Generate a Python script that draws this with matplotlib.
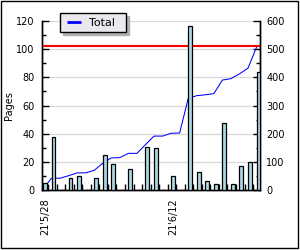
import matplotlib
matplotlib.use("Agg")
import matplotlib.pyplot as plt
from matplotlib.patches import Rectangle
from matplotlib.lines import Line2D
from matplotlib.ticker import MultipleLocator, FixedLocator, NullFormatter

# ---- data ----
days = list(range(26))
pages = [5, 38, 0, 9, 10, 0, 9, 25, 19, 0, 15, 0, 31, 30, 0, 10, 0, 116,
         13, 7, 4.5, 48, 4.3, 17, 20, 84]
total = [5, 43, 43, 52, 62, 62, 71, 96, 115, 116, 131, 131, 162, 192, 192,
         202, 203, 325, 335, 338, 342, 390, 395, 412, 432, 506]
label_positions = [0, 15]
tick_labels = ["21'5/28", "21'6/12"]
reference_level = 102

fig = plt.figure(figsize=(3.0, 2.5), dpi=100)
ax = fig.add_axes([42/300, 59.6/250, 217.5/300, 169.7/250])
ax2 = ax.twinx()

# put bar axes on top of the line axes
ax.set_zorder(ax2.get_zorder() + 1)
ax.patch.set_visible(False)

fs = 7
# bars
ax.bar(days, pages, width=0.45, align='edge', color='#add8e6',
       edgecolor='black', linewidth=0.9, zorder=3)
ax.axhline(reference_level, color='#ff0000', linewidth=1.5, zorder=2)

# total line
ln, = ax2.plot(days, total, color='#0000ff', linewidth=0.75, zorder=2)

ax.set_xlim(-0.117, 25.35)
ax.set_ylim(0, 120)
ax2.set_ylim(0, 600)

# grid on ax2 (coincides with left major ticks)
ax2.yaxis.grid(True, color='#d8d8d8', linewidth=0.9, zorder=0)
ax2.set_axisbelow(True)

for a in (ax, ax2):
    a.spines['top'].set_visible(False)
    for s in ('left', 'right', 'bottom'):
        a.spines[s].set_linewidth(1.0)
        a.spines[s].set_color('black')

ax.yaxis.set_major_locator(MultipleLocator(20))
ax.yaxis.set_minor_locator(MultipleLocator(10))
ax2.yaxis.set_major_locator(MultipleLocator(100))
ax2.yaxis.set_minor_locator(MultipleLocator(50))

ax.tick_params(axis='y', which='major', direction='in', length=5, width=1,
               labelsize=fs, pad=5.5)
ax.tick_params(axis='y', which='minor', direction='in', length=3, width=1)
ax2.tick_params(axis='y', which='major', direction='in', length=5, width=1,
                labelsize=fs, pad=5)
ax2.tick_params(axis='y', which='minor', direction='in', length=3, width=1)

# x ticks: small inward ticks between slots, labels at selected days
ax.xaxis.set_minor_locator(FixedLocator([d + 0.6 for d in days[:-1]]))
ax.xaxis.set_minor_formatter(NullFormatter())
ax.set_xticks([p + 0.23 for p in label_positions])
ax.set_xticklabels(tick_labels, rotation=90, fontsize=fs)
ax.tick_params(axis='x', which='major', length=0, pad=5.5)
ax.tick_params(axis='x', which='minor', direction='in', length=4, width=1)
ax2.tick_params(axis='x', which='both', length=0)

ax.set_ylabel('Pages', fontsize=fs)
ax.yaxis.set_label_coords(-0.13, 0.5)

handle = Line2D([], [], color='#0000ff', marker='_', markersize=10,
                markeredgewidth=2, linestyle='none')
leg = ax.legend(handles=[handle], labels=['Total  '], loc='upper left',
                bbox_to_anchor=(60/300, 1 - 13.3/250),
                bbox_transform=fig.transFigure, fontsize=8,
                frameon=True, fancybox=False, borderaxespad=0, numpoints=1,
                handlelength=1.8, handletextpad=0.4, borderpad=0.38,
                shadow={'color': '#b0b0b0', 'alpha': 1.0})
leg.get_frame().set_edgecolor('black')
leg.get_frame().set_facecolor('#ebe9ef')
leg.get_frame().set_linewidth(1.0)
leg.get_frame().set_alpha(1.0)

# figure frame
fig.patches.append(Rectangle((0.5/300, 2/250), 297/300, 247.5/250,
                             transform=fig.transFigure, fill=False,
                             edgecolor='black', linewidth=1.0))

fig.savefig('out.png', dpi=100)
